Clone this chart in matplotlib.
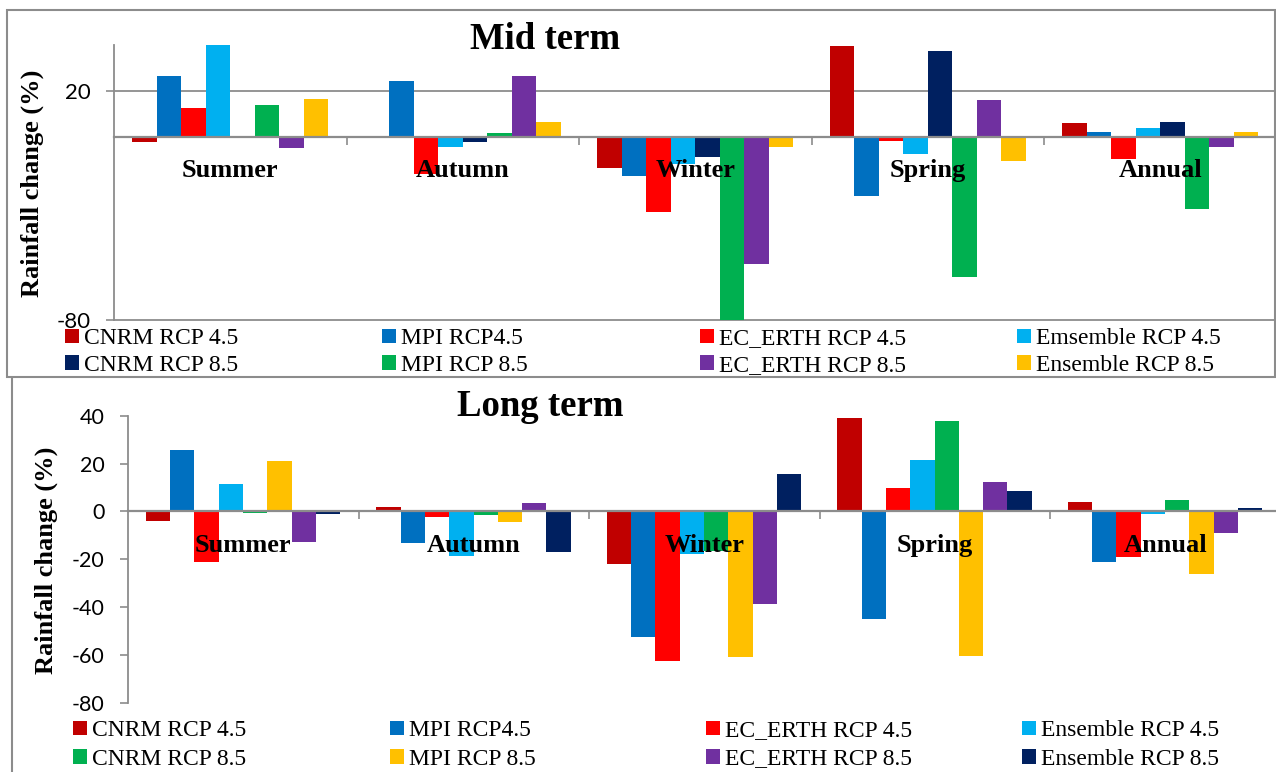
import matplotlib
matplotlib.use("Agg")
import matplotlib.pyplot as plt
from matplotlib.patches import Rectangle
from matplotlib.lines import Line2D

# ---- data -------------------------------------------------------------
seasons = ["Summer", "Autumn", "Winter", "Spring", "Annual"]

mid_labels = ["CNRM RCP 4.5", "MPI RCP4.5", "EC_ERTH RCP 4.5", "Emsemble RCP 4.5",
              "CNRM RCP 8.5", "MPI RCP 8.5", "EC_ERTH RCP 8.5", "Ensemble RCP 8.5"]
long_labels = ["CNRM RCP 4.5", "MPI RCP4.5", "EC_ERTH RCP 4.5", "Ensemble RCP 4.5",
               "CNRM RCP 8.5", "MPI RCP 8.5", "EC_ERTH RCP 8.5", "Ensemble RCP 8.5"]

# Mid term rainfall change (%) per season
cnrm45_mid = [-2.2, -0.3, -13.9, 39.6, 5.8]
mpi45_mid = [26.4, 24.2, -17.1, -25.8, 1.8]
ec45_mid = [12.4, -16.2, -32.7, -1.9, -9.8]
ens45_mid = [40.0, -4.7, -12.0, -7.7, 3.6]
cnrm85_mid = [-0.7, -2.5, -8.9, 37.4, 6.3]
mpi85_mid = [13.9, 1.6, -80.0, -61.2, -31.7]
ec85_mid = [-5.0, 26.4, -55.6, 15.9, -4.7]
ens85_mid = [16.2, 6.3, -4.5, -10.7, 1.8]

# Long term rainfall change (%) per season
cnrm45_long = [-4.2, 2.0, -22.2, 39.2, 3.8]
mpi45_long = [25.8, -13.4, -52.7, -45.2, -21.3]
ec45_long = [-21.2, -2.4, -62.6, 9.9, -19.1]
ens45_long = [11.6, -18.8, -17.8, 21.6, -1.0]
cnrm85_long = [-0.5, -1.5, -16.5, 37.6, 4.7]
mpi85_long = [21.0, -4.6, -60.8, -60.6, -26.2]
ec85_long = [-12.7, 3.3, -38.7, 12.1, -9.1]
ens85_long = [-1.3, -16.9, 15.5, 8.5, 1.5]

mid_series = [cnrm45_mid, mpi45_mid, ec45_mid, ens45_mid,
              cnrm85_mid, mpi85_mid, ec85_mid, ens85_mid]
long_series = [cnrm45_long, mpi45_long, ec45_long, ens45_long,
               cnrm85_long, mpi85_long, ec85_long, ens85_long]

mid_colors = ["#C00000", "#0070C0", "#FF0000", "#00B0F0",
              "#002060", "#00B050", "#7030A0", "#FFC000"]
long_colors = ["#C00000", "#0070C0", "#FF0000", "#00B0F0",
               "#00B050", "#FFC000", "#7030A0", "#002060"]

# ---- styling ------------------------------------------------------------
W, H = 1276, 772
SERIF = "Liberation Serif"
SANS = "Lato"
GRAY = "#8C8C8C"

fig = plt.figure(figsize=(W / 100, H / 100), dpi=100)


def fx(px):
    return px / W


def fy(py):
    return 1 - py / H


BAR_W = 0.1054
OFFSET = 0.0775


def draw_panel(ax, series, colors, labels, title, title_xy, ylabel_xy,
               yticks, grid, tick_fs, legend_cols_px, legend_rows_px,
               label_base_pt, row_gap):
    handles = []
    for j, (vals, col, lab) in enumerate(zip(series, colors, labels)):
        xs = [i + OFFSET + (j + 0.5) * BAR_W for i in range(len(seasons))]
        bc = ax.bar(xs, vals, width=BAR_W, color=col, edgecolor="none",
                    label=lab, zorder=3)
        handles.append(bc)

    ax.set_xlim(0, len(seasons))
    ax.set_ylim(-80, 40)
    ax.set_facecolor("none")

    for side in ("top", "right"):
        ax.spines[side].set_visible(False)
    ax.spines["bottom"].set_position(("data", 0))
    ax.spines["bottom"].set_color(GRAY)
    ax.spines["bottom"].set_linewidth(1.6)
    ax.spines["bottom"].set_zorder(4)
    ax.spines["left"].set_color(GRAY)
    ax.spines["left"].set_linewidth(1.3)

    # category boundaries carry the x tick marks
    ax.set_xticks(range(1, len(seasons)))
    ax.set_xticklabels([])
    ax.tick_params(axis="x", direction="out", length=5.5, width=1.2, color=GRAY)

    ax.set_yticks(yticks)
    ax.set_yticklabels([str(t) for t in yticks], fontfamily=SANS, fontsize=tick_fs)
    ax.tick_params(axis="y", direction="out", length=6, width=1.2, color=GRAY, pad=11)
    if grid:
        ax.yaxis.grid(True, color=GRAY, linewidth=1.3, zorder=0)
        for gl in ax.yaxis.get_gridlines():
            gl.set_clip_on(False)
    ax.set_axisbelow(True)

    # season names sit just under the zero line
    for i, s in enumerate(seasons):
        ax.annotate(s, xy=(i + 0.5, 0), xycoords="data",
                    xytext=(0, -label_base_pt), textcoords="offset points",
                    ha="center", va="baseline", fontfamily=SERIF,
                    fontweight="bold", fontsize=19, zorder=5)

    fig.text(fx(title_xy[0]), fy(title_xy[1]), title, ha="center", va="baseline",
             fontfamily=SERIF, fontweight="bold", fontsize=26.5)
    fig.text(fx(ylabel_xy[0]), fy(ylabel_xy[1]), "Rainfall change (%)",
             rotation=90, ha="center", va="center", fontfamily=SERIF,
             fontweight="bold", fontsize=19)

    # legend: four columns of two rows (RCP 4.5 over RCP 8.5)
    for c, xpx in enumerate(legend_cols_px):
        hh = [handles[c], handles[c + 4]]
        ll = [labels[c], labels[c + 4]]
        ymid = (legend_rows_px[0] + legend_rows_px[1]) / 2
        fig.legend(hh, ll, loc="center left", bbox_to_anchor=(fx(xpx), fy(ymid)),
                   frameon=False, borderpad=0, borderaxespad=0,
                   handlelength=0.58, handleheight=0.58, handletextpad=0.22,
                   labelspacing=row_gap,
                   prop={"family": SERIF, "size": 17})


# ---- Mid term panel ---------------------------------------------------------
ax1 = fig.add_axes([fx(114), fy(320.4), fx(1276.5 - 114), (320.4 - 44.6) / H])
draw_panel(ax1, mid_series, mid_colors, mid_labels, "Mid term", (545, 49),
           (32, 183), [-80, 20], True, 16, [65, 382, 700, 1017], (339, 365),
           28.8, 0.22)

# ---- Long term panel --------------------------------------------------------
ax2 = fig.add_axes([fx(128), fy(702.7), fx(1280.5 - 128), (702.7 - 415.7) / H])
draw_panel(ax2, long_series, long_colors, long_labels, "Long term", (540, 416),
           (46, 560), [-80, -60, -40, -20, 0, 20, 40], False, 15.5,
           [73, 390, 706, 1022], (731, 759), 29, 0.3)

# ---- frames -------------------------------------------------------------------
fig.add_artist(Rectangle((fx(7), fy(377)), fx(1275 - 7), (377 - 10) / H,
                         transform=fig.transFigure, fill=False,
                         edgecolor=GRAY, linewidth=1.5))
fig.add_artist(Line2D([fx(12), fx(12)], [fy(378), 0], transform=fig.transFigure,
                      color=GRAY, linewidth=1.5))

fig.savefig("out.png", dpi=100, facecolor="white")
